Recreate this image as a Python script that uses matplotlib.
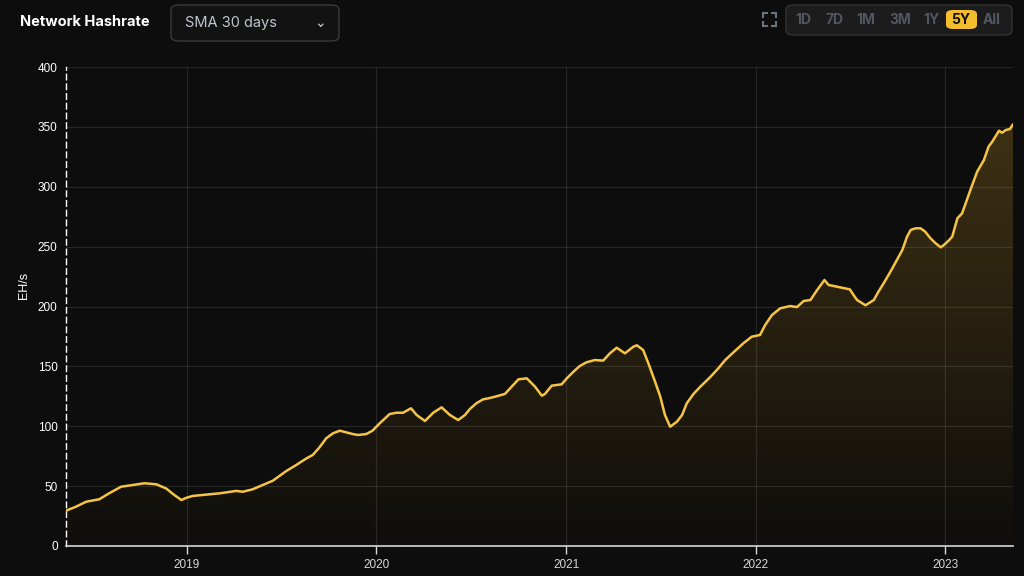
import numpy as np
import pandas as pd
import matplotlib.pyplot as plt
import matplotlib.dates as mdates
from matplotlib.patches import FancyBboxPatch
from matplotlib.colors import LinearSegmentedColormap

# data (30 day SMA, EH/s)
dates = [
    "2018-05-14", "2018-06-02", "2018-06-22", "2018-07-17", "2018-08-05", "2018-08-28",
    "2018-09-20", "2018-10-12", "2018-11-04", "2018-11-23", "2018-12-06", "2018-12-22",
    "2019-01-01", "2019-01-13", "2019-02-08", "2019-03-06", "2019-04-07", "2019-04-19",
    "2019-05-08", "2019-05-28", "2019-06-16", "2019-07-12", "2019-07-31", "2019-08-20",
    "2019-09-01", "2019-09-14", "2019-09-27", "2019-10-10", "2019-10-23", "2019-11-17",
    "2019-11-27", "2019-12-13", "2019-12-25", "2020-01-08", "2020-01-27", "2020-02-09",
    "2020-02-22", "2020-03-08", "2020-03-19", "2020-04-04", "2020-04-20", "2020-05-06",
    "2020-05-22", "2020-06-07", "2020-06-20", "2020-06-29", "2020-07-12", "2020-07-25",
    "2020-08-04", "2020-08-17", "2020-09-05", "2020-09-15", "2020-10-01", "2020-10-17",
    "2020-11-02", "2020-11-15", "2020-11-21", "2020-12-04", "2020-12-23", "2021-01-02",
    "2021-01-15", "2021-01-27", "2021-02-09", "2021-02-25", "2021-03-13", "2021-03-26",
    "2021-04-08", "2021-04-24", "2021-05-10", "2021-05-17", "2021-05-29", "2021-06-08",
    "2021-06-21", "2021-07-01", "2021-07-10", "2021-07-20", "2021-08-02", "2021-08-12",
    "2021-08-21", "2021-09-03", "2021-09-16", "2021-10-05", "2021-10-20", "2021-11-03",
    "2021-11-19", "2021-12-08", "2021-12-24", "2022-01-09", "2022-01-19", "2022-02-01",
    "2022-02-17", "2022-03-08", "2022-03-21", "2022-04-03", "2022-04-16", "2022-04-29",
    "2022-05-13", "2022-05-21", "2022-05-31", "2022-06-16", "2022-07-01", "2022-07-08",
    "2022-07-15", "2022-07-31", "2022-08-16", "2022-08-25", "2022-09-04", "2022-09-17",
    "2022-10-10", "2022-10-19", "2022-10-26", "2022-11-04", "2022-11-14", "2022-11-23",
    "2022-12-03", "2022-12-13", "2022-12-23", "2022-12-29", "2023-01-07", "2023-01-14",
    "2023-01-24", "2023-02-02", "2023-02-18", "2023-03-03", "2023-03-16", "2023-03-25",
    "2023-04-01", "2023-04-14", "2023-04-20", "2023-04-27", "2023-05-05", "2023-05-11",
]
hashrate = [
    29.5, 32.8, 37, 39, 44, 49.5,
    51, 52.4, 51.5, 48, 43.4, 38.4,
    40.3, 41.8, 42.9, 44, 46, 45.3,
    47.3, 51, 54.5, 62.6, 67.6, 73.2,
    76, 82.4, 90, 94.1, 96.3, 93.5,
    92.7, 93.5, 96.3, 102.5, 110.2, 111.3,
    111.3, 115, 109.4, 104.4, 111.3, 115.8,
    109.4, 105.2, 109.4, 114.2, 119.2, 122.5,
    123.3, 124.7, 127, 131.7, 139.2, 140,
    133, 125.5, 127, 133.9, 135, 140,
    145.6, 150.3, 153.4, 155.3, 154.8, 160.9,
    165.6, 160.9, 166.4, 167.6, 163.7, 152.6,
    137.2, 124.7, 109.4, 99.6, 103.8, 109.4,
    119.2, 127, 133, 141, 148, 155.3,
    161.8, 169.3, 174.8, 176.2, 184.6, 192.9,
    198.5, 200.4, 199.5, 204.6, 205.4, 213.8,
    222.1, 218, 217.1, 215.7, 214.3, 209.6,
    205.4, 201, 205.4, 212.4, 219.4, 229,
    247.2, 258.3, 263.9, 265.3, 265.3, 262.5,
    257, 252.8, 249.4, 251.4, 255, 258.3,
    273.7, 277.8, 297.3, 312.6, 322.3, 333.5,
    337.6, 346.8, 345.1, 347.4, 348.2, 352.1,
]
year_ticks = ["2019-01-01", "2020-01-01", "2021-01-01", "2022-01-01", "2023-01-01"]
year_labels = ["2019", "2020", "2021", "2022", "2023"]
range_buttons = ["1D", "7D", "1M", "3M", "1Y", "5Y", "All"]
active_range = "5Y"

BG = "#0d0d0d"
GOLD = "#f6c445"

x = mdates.date2num(pd.to_datetime(dates))
y = np.array(hashrate)

fig = plt.figure(figsize=(10.24, 5.76), dpi=100, facecolor=BG)
W, H = 1024, 576
ax = fig.add_axes([66 / W, 1 - 546 / H, (1013 - 66) / W, (546 - 67) / H])
ax.set_facecolor(BG)
ax.set_xlim(x[0], x[-1])
ax.set_ylim(0, 400)

# gradient fill under the line
poly = ax.fill_between(x, y, 0, color="none", lw=0)
cmap = LinearSegmentedColormap.from_list("g", [(0, "#0f0e0c"), (1, "#4a3a16")])
grad = np.linspace(0, 1, 256).reshape(-1, 1)
img = ax.imshow(grad, aspect="auto", cmap=cmap, origin="lower",
                extent=[x[0], x[-1], 0, 400], zorder=1, vmin=0, vmax=1.12)
img.set_clip_path(poly.get_paths()[0], transform=ax.transData)
ax.plot(x, y, color=GOLD, lw=1.8, zorder=3, solid_capstyle="round",
        solid_joinstyle="round")

# grid & axes (grid drawn over the fill, under the line)
yticks = np.arange(0, 401, 50)
ax.set_yticks(yticks)
ax.set_yticklabels([str(v) for v in yticks], color="white", fontsize=8.5,
                   family="Liberation Sans")
ax.set_xticks(mdates.date2num(pd.to_datetime(year_ticks)))
ax.set_xticklabels(year_labels, color="white", fontsize=8.5, family="Liberation Sans")
ax.set_axisbelow(False)
ax.grid(True, color="white", alpha=0.1, lw=0.9)
for s in ["top", "right"]:
    ax.spines[s].set_visible(False)
ax.spines["bottom"].set_color("#d8d8d8")
ax.spines["bottom"].set_linewidth(1.2)
ax.spines["left"].set_color("white")
ax.spines["left"].set_linestyle((0, (4, 3)))
ax.spines["left"].set_linewidth(1)
ax.tick_params(axis="x", colors="#d8d8d8", length=6, width=1, pad=3)
ax.tick_params(axis="y", length=0, pad=6)
ax.set_ylabel("EH/s", color="white", fontsize=9, family="Liberation Sans")
ax.yaxis.set_label_coords(-0.038, 0.545)

# header
fig.text(20 / W, 1 - 22 / H, "Network Hashrate", color="white", fontsize=10.5,
         fontweight="bold", family="Inter", va="center")
fig.patches.append(FancyBboxPatch((171 / W, 1 - 41 / H), 168 / W, 36 / H,
                                  boxstyle="round,pad=0,rounding_size=0.008",
                                  transform=fig.transFigure, fc="#121212",
                                  ec="#3a3a3a", lw=1))
fig.text(185 / W, 1 - 23 / H, "SMA 30 days", color="#c0c4cc", fontsize=10.5,
         family="Inter", va="center")
fig.text(320 / W, 1 - 23 / H, "⌄", color="#c8c8c8", fontsize=10,
         family="DejaVu Sans", va="center", ha="center")

# fullscreen icon
s = 13
for cx, cy, dx, dy in [(0, 0, 1, 1), (s, 0, -1, 1), (0, s, 1, -1), (s, s, -1, -1)]:
    px, py = 763 + cx, 26 - cy
    fig.lines.append(plt.Line2D([px / W, (px + 4 * dx) / W], [1 - py / H, 1 - py / H],
                                transform=fig.transFigure, color="#6b7280", lw=1.5))
    fig.lines.append(plt.Line2D([px / W, px / W], [1 - py / H, 1 - (py - 4 * dy) / H],
                                transform=fig.transFigure, color="#6b7280", lw=1.5))

# range selector
fig.patches.append(FancyBboxPatch((786 / W, 1 - 35 / H), 226 / W, 30 / H,
                                  boxstyle="round,pad=0,rounding_size=0.008",
                                  transform=fig.transFigure, fc="#1c1c1c",
                                  ec="#333333", lw=1))
btn_x = [803, 834, 866, 900, 931, 961, 992]
for lbl, bx in zip(range_buttons, btn_x):
    col = "#505662"
    if lbl == active_range:
        fig.patches.append(FancyBboxPatch((946 / W, 1 - 29 / H), 31 / W, 19 / H,
                                          boxstyle="round,pad=0,rounding_size=0.007",
                                          transform=fig.transFigure, fc="#f3bd2e",
                                          ec="none"))
        col = "#111111"
    fig.text(bx / W, 1 - 20 / H, lbl, color=col, fontsize=10, fontweight="bold",
             family="Inter", ha="center", va="center")

fig.savefig("out.png", dpi=100, facecolor=BG)
